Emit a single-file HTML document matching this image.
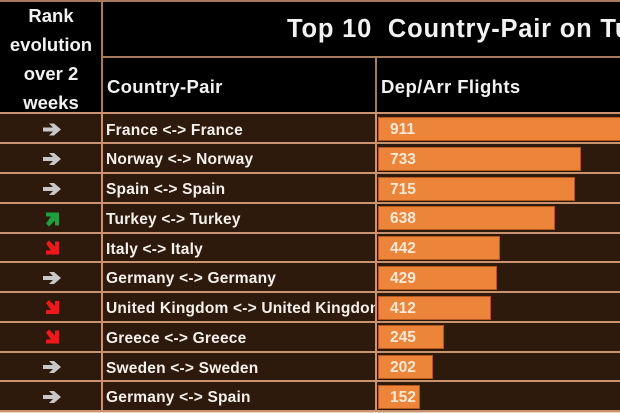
<!DOCTYPE html>
<html><head><meta charset="utf-8">
<style>
html,body{margin:0;padding:0;}
body{width:620px;height:413px;overflow:hidden;position:relative;background:#e9d3bd;font-family:"Liberation Sans",sans-serif;font-weight:bold;}
#wrap{position:absolute;left:0;top:0;width:620px;height:413px;overflow:hidden;}
.a{position:absolute;}
.txt{position:absolute;white-space:nowrap;color:#f2f2f2;}
.row{position:absolute;left:0;width:620px;height:29.75px;background:#2e1a0c;}
.hl{position:absolute;left:0;width:620px;height:2px;background:#c9936f;}
.bar{position:absolute;left:378px;height:24px;background:#ec853a;box-shadow:inset 0 0 0 1px #b5561d;}
.num{position:absolute;left:390px;color:#fbe9d6;font-size:15.5px;line-height:26px;}
.cp{position:absolute;left:106px;color:#f4f0ec;font-size:15.5px;letter-spacing:0.2px;width:269px;overflow:hidden;white-space:nowrap;line-height:18px;}
</style></head><body>
<div id="wrap">
<!-- header background -->
<div class="a" style="left:0;top:0;width:620px;height:113px;background:#000;"></div>
<div class="a" style="left:0;top:0;width:620px;height:2px;background:#a77a5c;"></div>
<div class="a" style="left:102px;top:56px;width:518px;height:2px;background:#a77a5c;"></div>
<div class="a" style="left:101px;top:0;width:2px;height:113px;background:#a77a5c;"></div>
<div class="a" style="left:375px;top:57px;width:2px;height:56px;background:#a77a5c;"></div>

<div class="txt" style="left:0;width:102px;top:1px;text-align:center;font-size:18.5px;line-height:29px;">Rank<br>evolution<br>over 2<br>weeks</div>
<div class="txt" style="left:287px;top:13px;width:333px;overflow:hidden;font-size:25.5px;letter-spacing:0.8px;line-height:32px;">Top 10&nbsp; Country-Pair on Turkey</div>
<div class="txt" style="left:107px;top:75px;font-size:18.5px;letter-spacing:0.3px;line-height:24px;">Country-Pair</div>
<div class="txt" style="left:381px;top:75px;font-size:18.5px;letter-spacing:0.4px;line-height:24px;">Dep/Arr Flights</div>

<!-- rows -->
<div class="row" style="top:113px;height:298px;"></div>

<div class="hl" style="top:112px;"></div>
<div class="hl" style="top:142px;"></div>
<div class="hl" style="top:172px;"></div>
<div class="hl" style="top:201.5px;"></div>
<div class="hl" style="top:231.5px;"></div>
<div class="hl" style="top:261px;"></div>
<div class="hl" style="top:291px;"></div>
<div class="hl" style="top:321px;"></div>
<div class="hl" style="top:350.5px;"></div>
<div class="hl" style="top:380px;"></div>
<div class="hl" style="top:409.5px;"></div>
<div class="a" style="left:101px;top:113px;width:2px;height:298px;background:#c9936f;"></div>
<div class="a" style="left:375px;top:113px;width:2px;height:298px;background:#c9936f;"></div>

<!-- bars -->
<div class="bar" style="top:117px;width:242px;box-shadow:inset 1px 1px 0 #b5561d, inset 0 -1px 0 #b5561d;"></div>
<div class="bar" style="top:146.5px;width:203px;"></div>
<div class="bar" style="top:176.5px;width:197px;"></div>
<div class="bar" style="top:206px;width:177px;"></div>
<div class="bar" style="top:236px;width:122px;"></div>
<div class="bar" style="top:265.5px;width:119px;"></div>
<div class="bar" style="top:295.5px;width:113px;"></div>
<div class="bar" style="top:325px;width:66px;"></div>
<div class="bar" style="top:355px;width:55px;"></div>
<div class="bar" style="top:384.5px;width:42px;"></div>

<div class="num" style="top:117px;">911</div>
<div class="num" style="top:146.5px;">733</div>
<div class="num" style="top:176.5px;">715</div>
<div class="num" style="top:206px;">638</div>
<div class="num" style="top:236px;">442</div>
<div class="num" style="top:265.5px;">429</div>
<div class="num" style="top:295.5px;">412</div>
<div class="num" style="top:325px;">245</div>
<div class="num" style="top:355px;">202</div>
<div class="num" style="top:384.5px;">152</div>

<div class="cp" style="top:121.5px;">France &lt;-&gt; France</div>
<div class="cp" style="top:151px;">Norway &lt;-&gt; Norway</div>
<div class="cp" style="top:181px;">Spain &lt;-&gt; Spain</div>
<div class="cp" style="top:210.5px;">Turkey &lt;-&gt; Turkey</div>
<div class="cp" style="top:240.5px;">Italy &lt;-&gt; Italy</div>
<div class="cp" style="top:270px;">Germany &lt;-&gt; Germany</div>
<div class="cp" style="top:300px;">United Kingdom &lt;-&gt; United Kingdom</div>
<div class="cp" style="top:329.5px;">Greece &lt;-&gt; Greece</div>
<div class="cp" style="top:359.5px;">Sweden &lt;-&gt; Sweden</div>
<div class="cp" style="top:389px;">Germany &lt;-&gt; Spain</div>

<!-- arrows -->
<svg class="a" style="left:0;top:0;" width="102" height="413" viewBox="0 0 102 413">
<defs>
<g id="gr"><polygon points="-9,-2 1,-2 -3,-6 2,-6 9,0 2,6 -3,6 1,2 -9,2" fill="#c8c8c8"/></g>
<g id="dn"><polygon points="-6,-5 -3,-8 3,-2 3,-7 7,-7 7,6 -6,6 -6,2 -1,2" fill="#f01818"/></g>
<g id="up"><polygon points="-6,5 -3,8 3,2 3,7 7,7 7,-6 -6,-6 -6,-2 -1,-2" fill="#1fa040"/></g>
</defs>
<use href="#gr" x="52" y="129.5"/>
<use href="#gr" x="52" y="159"/>
<use href="#gr" x="52" y="189"/>
<use href="#up" x="52" y="218.5"/>
<use href="#dn" x="52" y="248.5"/>
<use href="#gr" x="52" y="278"/>
<use href="#dn" x="52" y="308"/>
<use href="#dn" x="52" y="337.5"/>
<use href="#gr" x="52" y="367"/>
<use href="#gr" x="52" y="397"/>
</svg>
</div>
</body></html>
